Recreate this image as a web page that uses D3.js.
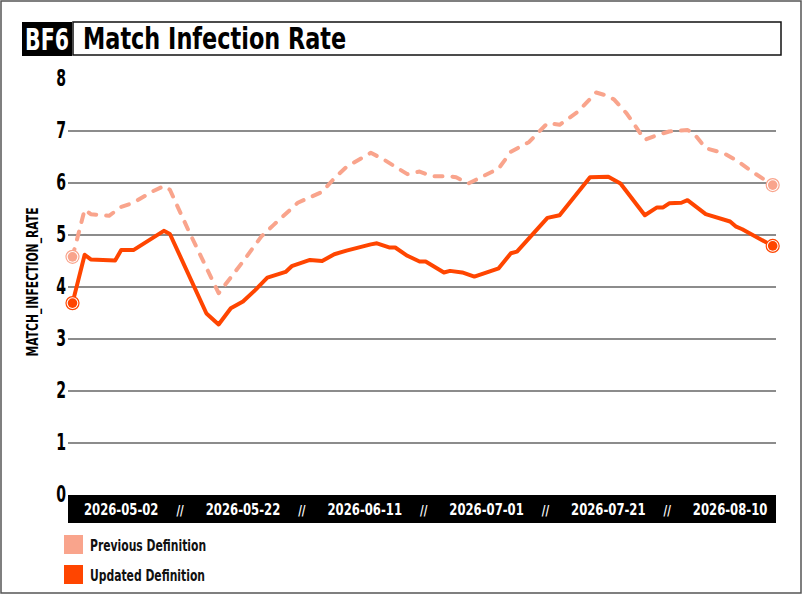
<!DOCTYPE html>
<html>
<head>
<meta charset="utf-8">
<script src="https://cdn.jsdelivr.net/npm/d3@7"></script>
<style>
  body { margin: 0; background: #fff; }
  svg text { font-family: "DejaVu Sans Condensed", "Liberation Sans Narrow", sans-serif; font-weight: bold; }
</style>
</head>
<body>
<svg id="chart"></svg>
<script>
// match infection rate, two definitions
const seriesNames = ["Previous Definition", "Updated Definition"];
const seriesColors = ["#f9a48c", "#ff4500"];

const prevDates = ["2026-04-24","2026-04-26","2026-04-27","2026-04-30","2026-05-02","2026-05-04","2026-05-07","2026-05-09","2026-05-10","2026-05-13","2026-05-18","2026-05-22","2026-05-25","2026-05-27","2026-05-31","2026-06-04","2026-06-06","2026-06-08","2026-06-12","2026-06-14","2026-06-18","2026-06-20","2026-06-22","2026-06-25","2026-06-26","2026-06-28","2026-07-03","2026-07-05","2026-07-08","2026-07-11","2026-07-13","2026-07-16","2026-07-19","2026-07-21","2026-07-22","2026-07-24","2026-07-27","2026-07-29","2026-07-31","2026-08-03","2026-08-04","2026-08-06","2026-08-09","2026-08-11","2026-08-14","2026-08-17"];
const prevValues = [4.58,5.49,5.40,5.37,5.54,5.62,5.83,5.94,5.87,5.10,3.88,4.49,4.97,5.19,5.62,5.83,6.09,6.31,6.58,6.46,6.17,6.22,6.13,6.13,6.11,5.99,6.28,6.60,6.79,7.15,7.12,7.37,7.74,7.67,7.60,7.34,6.83,6.92,6.99,7.02,6.96,6.67,6.57,6.44,6.19,5.96];

const updDates = ["2026-04-24","2026-04-26","2026-04-27","2026-05-01","2026-05-02","2026-05-04","2026-05-09","2026-05-10","2026-05-16","2026-05-18","2026-05-20","2026-05-22","2026-05-24","2026-05-26","2026-05-29","2026-05-30","2026-06-02","2026-06-04","2026-06-06","2026-06-08","2026-06-12","2026-06-13","2026-06-15","2026-06-16","2026-06-18","2026-06-20","2026-06-21","2026-06-24","2026-06-25","2026-06-27","2026-06-29","2026-07-03","2026-07-05","2026-07-06","2026-07-11","2026-07-13","2026-07-18","2026-07-21","2026-07-23","2026-07-27","2026-07-29","2026-07-30","2026-07-31","2026-08-02","2026-08-03","2026-08-06","2026-08-10","2026-08-11","2026-08-12","2026-08-17"];
const updValues = [3.69,4.62,4.53,4.51,4.71,4.71,5.08,5.02,3.49,3.28,3.59,3.72,3.94,4.18,4.29,4.40,4.52,4.50,4.63,4.70,4.82,4.84,4.76,4.76,4.60,4.49,4.49,4.28,4.31,4.28,4.20,4.36,4.65,4.68,5.33,5.38,6.11,6.12,5.99,5.38,5.53,5.53,5.61,5.62,5.67,5.40,5.26,5.16,5.11,4.79];

const tickDates = ["2026-05-02","2026-05-22","2026-06-11","2026-07-01","2026-07-21","2026-08-10"];
const yTicks = [0, 1, 2, 3, 4, 5, 6, 7, 8];

const W = 803, H = 595;
const margin = { top: 79, right: 27, bottom: 100, left: 68 };
const plotLeft = margin.left, plotRight = W - margin.right;
const squeeze = 0.8; // the display font is narrower than DejaVu

const svg = d3.select("#chart")
    .attr("width", W)
    .attr("height", H);

const parse = d3.utcParse("%Y-%m-%d");
const prev = prevDates.map((d, i) => ({ date: parse(d), value: prevValues[i] }));
const upd = updDates.map((d, i) => ({ date: parse(d), value: updValues[i] }));

// squeezed text: wrap in a g that scales x only
function label(parent, x, y, sx) {
    return parent.append("g")
        .attr("transform", `translate(${x},${y}) scale(${sx},1)`)
        .append("text");
}

// outer frame
svg.append("rect")
    .attr("x", 1).attr("y", 1)
    .attr("width", W - 3).attr("height", H - 3)
    .attr("fill", "#fff")
    .attr("stroke", "#555")
    .attr("stroke-width", 1.5);

// title
svg.append("rect")
    .attr("x", 22).attr("y", 22)
    .attr("width", 50).attr("height", 34)
    .attr("fill", "#000");
label(svg, 47, 49.5, 0.76)
    .attr("text-anchor", "middle")
    .attr("fill", "#fff")
    .style("font-size", "30px")
    .text("BF6");
svg.append("rect")
    .attr("x", 73).attr("y", 22)
    .attr("width", 708).attr("height", 33)
    .attr("fill", "#fff")
    .attr("stroke", "#111")
    .attr("stroke-width", 1.5);
label(svg, 83, 48.5, 0.83)
    .attr("fill", "#000")
    .style("font-size", "30px")
    .text("Match Infection Rate");

const x = d3.scaleUtc()
    .domain([parse("2026-04-24"), parse("2026-08-17")])
    .range([72.5, 772.7]);

const y = d3.scaleLinear()
    .domain([0, 8])
    .range([495, 79]);

// gridlines
svg.append("g")
    .selectAll("line")
    .data(yTicks.filter(t => t > 0 && t < 8))
    .enter()
    .append("line")
    .attr("x1", plotLeft)
    .attr("x2", plotRight)
    .attr("y1", d => y(d))
    .attr("y2", d => y(d))
    .attr("stroke", "#666")
    .attr("stroke-width", 1.5);

// y tick labels
const yLab = svg.append("g");
yTicks.forEach(t => {
    label(yLab, 66, y(t) - 1, 0.68)
        .attr("dy", "0.36em")
        .attr("text-anchor", "end")
        .attr("fill", "#000")
        .style("font-size", "23px")
        .text(t);
});

label(svg, 38, 282, 1)
    .attr("transform", `rotate(-90) scale(${squeeze},1)`)
    .attr("text-anchor", "middle")
    .attr("fill", "#000")
    .style("font-size", "15px")
    .text("MATCH_INFECTION_RATE");

// x axis bar
svg.append("rect")
    .attr("x", plotLeft)
    .attr("y", 495)
    .attr("width", 776 - plotLeft)
    .attr("height", 28)
    .attr("fill", "#000");

const ticks = tickDates.map(parse);
const xLab = svg.append("g");
ticks.forEach((d, i) => {
    label(xLab, x(d), 515, 0.81)
        .attr("text-anchor", "middle")
        .attr("fill", "#fff")
        .style("font-size", "16px")
        .text(d3.utcFormat("%Y-%m-%d")(d));
    if (i > 0) {
        label(xLab, (x(d) + x(ticks[i - 1])) / 2 - 2, 515, squeeze)
            .attr("text-anchor", "middle")
            .attr("fill", "#fff")
            .style("font-size", "14px")
            .text("//");
    }
});

// lines
const line = d3.line()
    .x(d => x(d.date))
    .y(d => y(d.value));

svg.append("path")
    .datum(prev)
    .attr("d", line)
    .attr("fill", "none")
    .attr("stroke", seriesColors[0])
    .attr("stroke-width", 4)
    .attr("stroke-linejoin", "round")
    .attr("stroke-linecap", "round")
    .attr("stroke-dasharray", "8,10");

svg.append("path")
    .datum(upd)
    .attr("d", line)
    .attr("fill", "none")
    .attr("stroke", seriesColors[1])
    .attr("stroke-width", 4)
    .attr("stroke-linejoin", "round");

// end markers
[prev, upd].forEach((s, k) => {
    const ends = [s[0], s[s.length - 1]];
    const g = svg.append("g");
    g.selectAll(".ring")
        .data(ends)
        .enter()
        .append("circle")
        .attr("cx", d => x(d.date))
        .attr("cy", d => y(d.value))
        .attr("r", 6.5)
        .attr("fill", "#fff")
        .attr("stroke", seriesColors[k])
        .attr("stroke-width", 1.2);
    g.selectAll(".dot")
        .data(ends)
        .enter()
        .append("circle")
        .attr("cx", d => x(d.date))
        .attr("cy", d => y(d.value))
        .attr("r", 4.8)
        .attr("fill", seriesColors[k]);
});

// legend
const legend = svg.append("g")
    .selectAll("g")
    .data(seriesNames)
    .enter()
    .append("g")
    .attr("transform", (d, i) => `translate(64,${535 + i * 30})`);
legend.append("rect")
    .attr("width", 19)
    .attr("height", 19)
    .attr("fill", (d, i) => seriesColors[i]);
legend.each(function(d) {
    label(d3.select(this), 26, 15.5, 0.75)
        .attr("fill", "#111")
        .style("font-size", "16px")
        .text(d);
});
</script>
</body>
</html>
